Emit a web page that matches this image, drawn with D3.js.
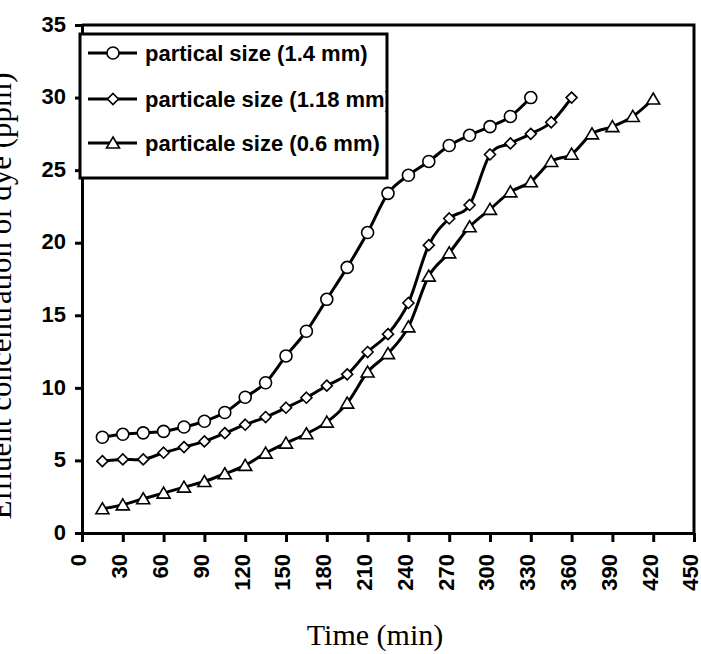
<!DOCTYPE html>
<html>
<head>
<meta charset="utf-8">
<script src="https://cdn.jsdelivr.net/npm/d3@7"></script>
<style>
  body { margin: 0; background: #fff; }
  svg { display: block; }
  .tick text { font-family: "Liberation Sans", Arial, sans-serif; font-weight: bold; font-size: 22px; fill: #000; }
</style>
</head>
<body>
<div id="chart"></div>
<script>
// data (time in min, concentration in ppm)
const time14 = [15, 30, 45, 60, 75, 90, 105, 120, 135, 150, 165, 180, 195, 210, 225, 240, 255, 270, 285, 300, 315, 330];
const conc14 = [6.6, 6.8, 6.9, 7.0, 7.3, 7.7, 8.3, 9.35, 10.35, 12.2, 13.9, 16.1, 18.3, 20.7, 23.4, 24.65, 25.6, 26.7, 27.4, 28.0, 28.7, 30.0];

const time118 = [15, 30, 45, 60, 75, 90, 105, 120, 135, 150, 165, 180, 195, 210, 225, 240, 255, 270, 285, 300, 315, 330, 345, 360];
const conc118 = [4.95, 5.07, 5.07, 5.53, 5.92, 6.31, 6.88, 7.46, 7.99, 8.63, 9.32, 10.15, 10.93, 12.47, 13.7, 15.85, 19.83, 21.67, 22.6, 26.08, 26.84, 27.5, 28.3, 30.0];

const time06 = [15, 30, 45, 60, 75, 90, 105, 120, 135, 150, 165, 180, 195, 210, 225, 240, 255, 270, 285, 300, 315, 330, 345, 360, 375, 390, 405, 420];
const conc06 = [1.67, 1.94, 2.36, 2.75, 3.16, 3.55, 4.08, 4.66, 5.5, 6.19, 6.84, 7.64, 8.95, 11.09, 12.36, 14.2, 17.7, 19.3, 21.1, 22.3, 23.5, 24.2, 25.6, 26.1, 27.5, 28.0, 28.7, 29.9];

const seriesNames = ["partical size (1.4 mm)", "particale size (1.18 mm)", "particale size (0.6 mm)"];
const xTicks = [0, 30, 60, 90, 120, 150, 180, 210, 240, 270, 300, 330, 360, 390, 420, 450];
const yTicks = [0, 5, 10, 15, 20, 25, 30, 35];

const width = 701, height = 654;
const margin = {top: 25, right: 7, bottom: 121, left: 82};

const svg = d3.select("#chart")
  .append("svg")
    .attr("width", width)
    .attr("height", height);

const x = d3.scaleLinear().domain([0, 450]).range([margin.left, width - margin.right]);
const y = d3.scaleLinear().domain([0, 35]).range([height - margin.bottom, margin.top]);

// frame (top + right)
svg.append("path")
  .attr("d", `M${x(0)},${y(35)}H${x(450)}V${y(0)}`)
  .attr("fill", "none")
  .attr("stroke", "#000")
  .attr("stroke-width", 3);

// axes
const xAxis = svg.append("g")
  .attr("transform", `translate(0,${y(0)})`)
  .call(d3.axisBottom(x).tickValues(xTicks).tickSize(9).tickSizeOuter(0).tickFormat(d3.format("d")));
xAxis.selectAll("text")
  .attr("transform", "rotate(-90)")
  .attr("text-anchor", "end")
  .attr("x", -21)
  .attr("y", 0)
  .attr("dy", "0.18em");

const yAxis = svg.append("g")
  .attr("transform", `translate(${x(0)},0)`)
  .call(d3.axisLeft(y).tickValues(yTicks).tickSize(7).tickPadding(9).tickSizeOuter(0));
yAxis.selectAll("text").attr("dy", "0.28em");

svg.selectAll(".domain").attr("stroke", "#000").attr("stroke-width", 3);
svg.selectAll(".tick line").attr("stroke", "#000").attr("stroke-width", 3);

// axis titles
svg.append("text")
  .attr("x", 375)
  .attr("y", 645)
  .attr("text-anchor", "middle")
  .style("font-family", "'Liberation Serif', 'Times New Roman', serif")
  .style("font-size", "30px")
  .text("Time (min)");

svg.append("text")
  .attr("transform", "translate(11,296) rotate(-90)")
  .attr("text-anchor", "middle")
  .style("font-family", "'Liberation Serif', 'Times New Roman', serif")
  .style("font-size", "31px")
  .text("Effluent concentration of dye (ppm)");

// markers
const drawMarker = (sel, kind) => {
  if (kind === "circle") {
    sel.append("circle").attr("r", 6);
  } else if (kind === "diamond") {
    sel.append("path").attr("d", "M0,-5.5L5.5,0L0,5.5L-5.5,0Z");
  } else {
    sel.append("path").attr("d", "M0,-6L6.5,5L-6.5,5Z");
  }
  sel.selectAll("circle,path")
    .attr("fill", "#fff")
    .attr("stroke", "#000")
    .attr("stroke-width", 1.6);
};

const line = d3.line()
  .x(d => x(d[0]))
  .y(d => y(d[1]))
  .curve(d3.curveCardinal);

const series = [
  {name: seriesNames[0], kind: "circle", pts: d3.zip(time14, conc14)},
  {name: seriesNames[1], kind: "diamond", pts: d3.zip(time118, conc118)},
  {name: seriesNames[2], kind: "triangle", pts: d3.zip(time06, conc06)}
];

series.forEach(s => {
  svg.append("path")
    .datum(s.pts)
    .attr("fill", "none")
    .attr("stroke", "#000")
    .attr("stroke-width", 3)
    .attr("d", line);

  svg.append("g")
    .selectAll("g")
    .data(s.pts)
    .join("g")
      .attr("transform", d => `translate(${x(d[0])},${y(d[1])})`)
      .each(function() { drawMarker(d3.select(this), s.kind); });
});

// legend
const lg = svg.append("g");
svg.append("clipPath").attr("id", "legclip")
  .append("rect").attr("x", 80).attr("y", 34).attr("width", 306).attr("height", 144);
lg.append("rect")
  .attr("x", 80).attr("y", 34).attr("width", 307).attr("height", 144)
  .attr("fill", "#fff")
  .attr("stroke", "#000")
  .attr("stroke-width", 3);

const rows = lg.append("g").attr("clip-path", "url(#legclip)");
const rowY = [53, 99, 143];
series.forEach((s, i) => {
  rows.append("line")
    .attr("x1", 88).attr("x2", 137)
    .attr("y1", rowY[i]).attr("y2", rowY[i])
    .attr("stroke", "#000").attr("stroke-width", 3);
  const m = rows.append("g").attr("transform", `translate(113,${rowY[i]})`);
  drawMarker(m, s.kind);
  rows.append("text")
    .attr("x", 145)
    .attr("y", rowY[i])
    .attr("dy", "0.36em")
    .style("font-family", "'Liberation Sans', Arial, sans-serif")
    .style("font-weight", "bold")
    .style("font-size", "22px")
    .text(s.name);
});
</script>
</body>
</html>
